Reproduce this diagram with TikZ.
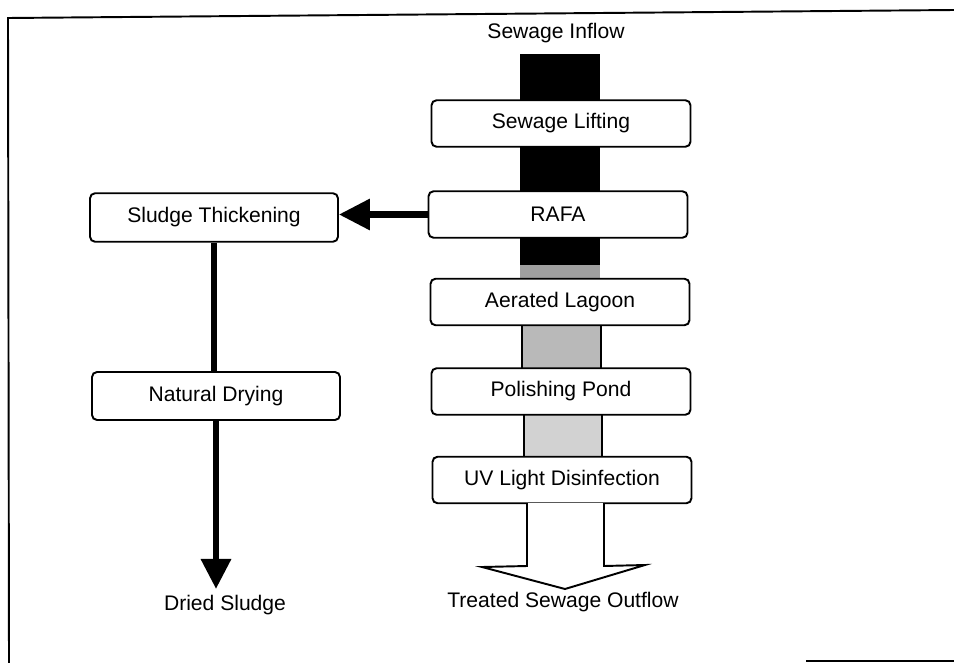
\documentclass[tikz,border=0pt]{standalone}
\usepackage{fontspec}
\setmainfont{Liberation Sans}
\usetikzlibrary{arrows.meta}
\tikzset{
  stage/.style={draw, line width=1.1pt, rounded corners=0.1cm, fill=white,
    minimum width=5.18cm, minimum height=0.93cm, inner sep=0pt},
  flow/.style={line width=3.6pt},
}
\begin{document}
\begin{tikzpicture}[x=0.02cm,y=-0.02cm,font=\fontsize{12}{14}\selectfont]
  \useasboundingbox (0,0) rectangle (954,663);
  \draw[line width=1.1pt] (954,10) -- (8,18) -- (9,663);
  \draw[line width=1.1pt] (806,661) -- (954,661);
  \fill (520,54) rectangle (600,266);
  \fill[gray!75] (520,265) rectangle (600,279);
  \filldraw[fill=gray!55, line width=0.8pt] (522,325) rectangle (601,369);
  \filldraw[fill=gray!35, line width=0.8pt] (524,414) rectangle (602,458);
  \node (inflow) at (556,33) {Sewage Inflow};
  \node[stage] (lift) at (561,123.5) {Sewage Lifting};
  \node[stage] (rafa) at (558,214.5) {RAFA};
  \node[stage] (lagoon) at (560,302) {Aerated Lagoon};
  \node[stage] (pond) at (561,391.5) {Polishing Pond};
  \node[stage] (uv) at (562,480) {UV Light Disinfection};
  \node (outflow) at (563,602) {Treated Sewage Outflow};
  \filldraw[fill=white, line width=1.1pt] (527,503) -- (527,566) -- (482,567)
    -- (565,589) -- (645,565) -- (604,566) -- (604,503);
  \node[stage, minimum width=4.96cm, minimum height=0.97cm] (thick) at (214,217.5) {Sludge Thickening};
  \node[stage, minimum width=4.96cm, minimum height=0.96cm] (dry) at (216,396) {Natural Drying};
  \node (dried) at (225,605) {Dried Sludge};
  \draw[flow, -{Triangle[length=0.62cm, width=0.6cm]}] (rafa.west) -- (rafa.west -| thick.east);
  \draw[flow] (thick.south) -- (thick.south |- dry.north);
  \draw[flow, -{Triangle[length=0.6cm, width=0.58cm]}] (dry.south) -- (dry.south |- dried.north);
\end{tikzpicture}
\end{document}
